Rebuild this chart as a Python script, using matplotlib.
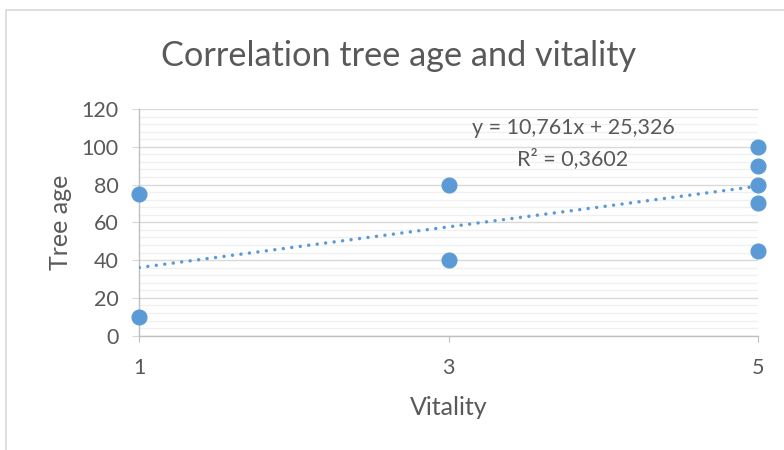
import matplotlib.pyplot as plt
from matplotlib.patches import Rectangle
from matplotlib.ticker import MultipleLocator

plt.rcParams['font.family'] = ['Lato', 'DejaVu Sans']

# vitality class vs. tree age
vitality = [1, 1, 3, 3, 5, 5, 5, 5, 5]
tree_age = [75, 10, 80, 40, 100, 90, 80, 70, 45]

# linear trendline as reported
slope = 10.761
intercept = 25.326
r_squared = 0.3602

x_ticks = [1, 3, 5]

text_color = '#595959'
point_color = '#5b9bd5'

fig = plt.figure(figsize=(7.84, 4.5), dpi=100)
ax = fig.add_axes([0.1777, 0.254, 0.7888, 0.5038])

# chart frame
fig.patches.append(Rectangle((6 / 784, -0.1), 1.2, 1.1 - 10 / 450,
                             transform=fig.transFigure, fill=False,
                             edgecolor='#d9d9d9', linewidth=1.2))

ax.set_xlim(1, 5)
ax.set_ylim(0, 120)
ax.yaxis.set_major_locator(MultipleLocator(20))
ax.yaxis.set_minor_locator(MultipleLocator(4))
ax.set_xticks(x_ticks)

ax.grid(which='major', axis='y', color='#d9d9d9', linewidth=1.0)
ax.grid(which='minor', axis='y', color='#f0f0f0', linewidth=1.0)
ax.set_axisbelow(True)

for side in ['top', 'right']:
    ax.spines[side].set_visible(False)
ax.spines['left'].set_color('#bfbfbf')
ax.spines['bottom'].set_color('#bfbfbf')
ax.spines['left'].set_linewidth(1.0)
ax.spines['bottom'].set_linewidth(1.0)

ax.tick_params(axis='y', which='major', length=5, color='#d9d9d9',
               labelsize=15.5, labelcolor=text_color, pad=10)
ax.tick_params(axis='y', which='minor', length=0)
ax.tick_params(axis='x', length=4, color='#bfbfbf',
               labelsize=15.5, labelcolor=text_color, pad=12)

tx = [1, 5]
ty = [slope * v + intercept for v in tx]
ax.plot(tx, ty, color=point_color, linewidth=2.5, linestyle=(0, (0.01, 2.45)),
        dash_capstyle='round', zorder=3)

ax.scatter(vitality, tree_age, s=112, color=point_color, zorder=4, clip_on=False)

ax.text(3.805, 109.9, f'y = {slope:.3f}x + {intercept:.3f}'.replace('.', ','),
        ha='center', va='center', fontsize=15.5, color=text_color)
ax.text(3.805, 93.5, f'R² = {r_squared:.4f}'.replace('.', ','),
        ha='center', va='center', fontsize=15.5, color=text_color)

fig.text(0.509, 1 - 56 / 450, 'Correlation tree age and vitality',
         ha='center', va='center', fontsize=24.7, color=text_color)
ax.set_xlabel('Vitality', fontsize=18, color=text_color, labelpad=13)
ax.set_ylabel('Tree age', fontsize=18, color=text_color, labelpad=7)

fig.savefig('out.png', dpi=100)
